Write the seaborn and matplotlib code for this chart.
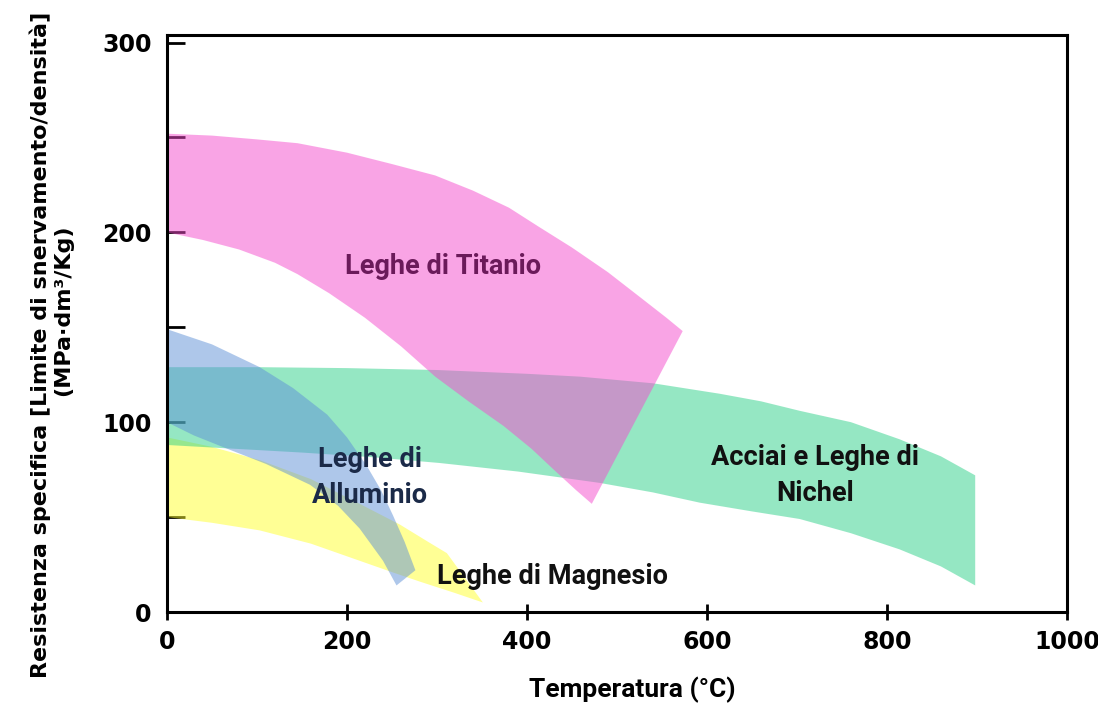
import numpy as np
import matplotlib
matplotlib.use('Agg')
import matplotlib.pyplot as plt
import seaborn as sns
from matplotlib.ticker import MultipleLocator

#  Data 
# Titanium alloys band: upper edge, then lower edge
ti_top_x = [0, 50, 100, 145, 200, 250, 298, 340, 380, 413, 450, 490, 528, 555, 573]
ti_top_y = [252, 251, 249, 247, 242, 236, 230, 222, 213, 203, 192, 179, 165, 155, 148]
ti_bot_x = [0, 40, 80, 120, 145, 180, 220, 260, 298, 335, 374, 405, 432, 455, 472]
ti_bot_y = [200, 196, 191, 184, 178, 168, 155, 140, 124, 111, 98, 86, 74, 64, 57]

# Steels and nickel alloys band
ni_top_x = [0, 100, 200, 300, 400, 459, 540, 614, 660, 703, 760, 814, 860, 898]
ni_top_y = [129, 129, 128.5, 127.5, 125.5, 124, 120.5, 115, 111, 106, 100, 91, 82, 72]
ni_bot_x = [0, 75, 150, 230, 303, 390, 481, 540, 592, 650, 703, 760, 814, 860, 898]
ni_bot_y = [88, 86, 84, 81.5, 78.5, 74, 68, 63, 57.6, 53, 49, 41.5, 33, 24, 14]

# Aluminium alloys band
al_top_x = [0, 50, 103, 140, 178, 200, 222, 238, 251, 264, 276]
al_top_y = [149, 141, 129, 118, 104, 92, 77, 64, 51, 37, 22]
al_bot_x = [0, 30, 67, 110, 159, 190, 214, 240, 255]
al_bot_y = [100, 93, 86, 78, 67, 56, 44, 27, 14]

# Magnesium alloys band
mg_top_x = [0, 50, 103, 160, 214, 259, 290, 311]
mg_top_y = [92, 87, 80, 70, 57, 46, 37, 31]
mg_bot_x = [0, 50, 103, 160, 214, 250, 281, 320, 351]
mg_bot_y = [50, 47, 43, 36, 27, 21, 16, 10, 5]

x_ticks = [0, 200, 400, 600, 800, 1000]
y_ticks = [0, 100, 200, 300]

bands = [
    # name, top x, top y, bottom x, bottom y, colour
    ("Magnesio", mg_top_x, mg_top_y, mg_bot_x, mg_bot_y, "#FFFF2D"),
    ("Nichel", ni_top_x, ni_top_y, ni_bot_x, ni_bot_y, "#2DD189"),
    ("Alluminio", al_top_x, al_top_y, al_bot_x, al_bot_y, "#5F91D7"),
    ("Titanio", ti_top_x, ti_top_y, ti_bot_x, ti_bot_y, "#F54BCD"),
]

#  Plot 
sns.set_theme(style="ticks")
plt.rcParams['font.family'] = ['Roboto', 'DejaVu Sans']
plt.rcParams['text.color'] = 'black'

fig = plt.figure(figsize=(10.98, 7.07), dpi=100)
ax = fig.add_axes([167 / 1098, 95 / 707, 900 / 1098, 577 / 707])

for name, tx, ty, bx, by, col in bands:
    px = list(tx) + list(bx)[::-1]
    py = list(ty) + list(by)[::-1]
    ax.fill(px, py, color=col, alpha=0.5, linewidth=0)

ax.set_xlim(0, 1000)
ax.set_ylim(0, 304)
ax.set_xticks(x_ticks)
ax.set_yticks(y_ticks)
ax.yaxis.set_minor_locator(MultipleLocator(50))

for s in ax.spines.values():
    s.set_color('black')
    s.set_linewidth(2.2)

ax.tick_params(axis='x', direction='inout', length=12, width=2, pad=7,
               labelsize=17, bottom=True, top=False, colors='black')
ax.tick_params(axis='y', which='both', direction='in', length=13, width=2,
               pad=11, labelsize=17, left=True, right=False, colors='black')
for lbl in ax.get_xticklabels() + ax.get_yticklabels():
    lbl.set_fontweight('bold')
    lbl.set_family('DejaVu Sans')

# band labels
lab = dict(ha='center', va='center', fontsize=19.5, fontweight='bold')
ax.text(307, 182, "Leghe di Titanio", color='#6B1A5A', **lab)
ax.text(226, 71, "Leghe di\nAlluminio", color='#1B2A48', linespacing=1.45, **lab)
ax.text(720, 72, "Acciai e Leghe di\nNichel", color='#111111', linespacing=1.45, **lab)
ax.text(428, 18.5, "Leghe di Magnesio", color='#111111', **lab)

# axis titles
fig.text(632 / 1098, 1 - 690 / 707, "Temperatura (°C)", ha='center', va='center',
         fontsize=19, fontweight='bold', color='black')
fig.text(40 / 1098, 1 - 345 / 707,
         "Resistenza specifica [Limite di snervamento/densità]",
         rotation=90, ha='center', va='center', fontsize=16,
         fontweight='bold', family='DejaVu Sans', color='black')
fig.text(63 / 1098, 1 - 310 / 707, "(MPa·dm³/Kg)",
         rotation=90, ha='center', va='center', fontsize=16,
         fontweight='bold', family='DejaVu Sans', color='black')

fig.savefig('out.png', dpi=100)
plt.close(fig)
